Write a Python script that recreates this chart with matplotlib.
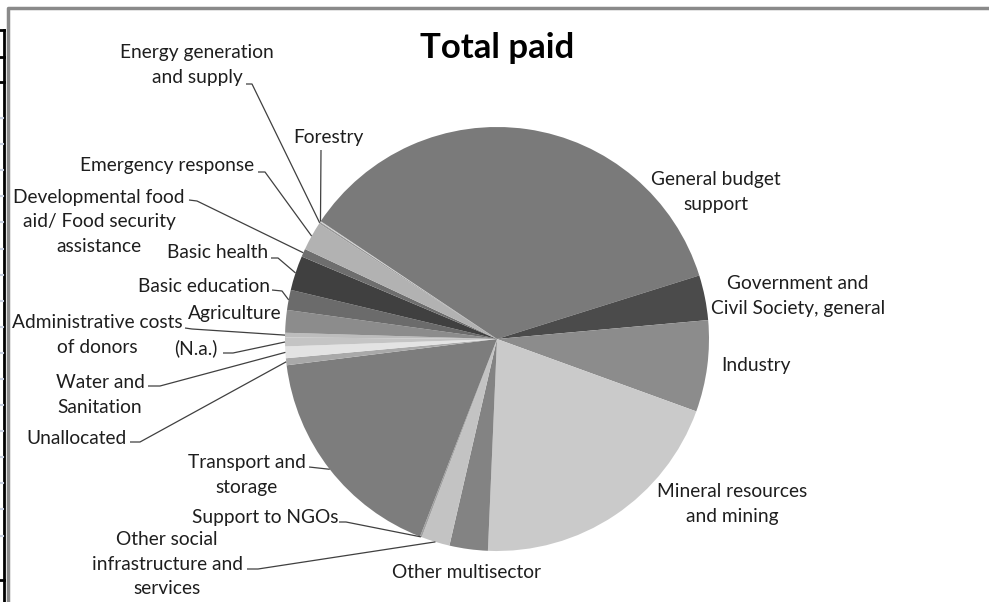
import numpy as np
import matplotlib
matplotlib.use("Agg")
import matplotlib.pyplot as plt

plt.rcParams['font.family'] = ['Lato', 'DejaVu Sans']

# share of total paid by sector (%), in the order the slices are drawn
sectores = ['Administrative costs\nof donors', 'Agriculture', 'Basic education',
            'Basic health', 'Developmental food\naid/ Food security\nassistance',
            'Emergency response', 'Energy generation\nand supply', 'Forestry',
            'General budget\nsupport', 'Government and\nCivil Society, general',
            'Industry', 'Mineral resources\nand mining', 'Other multisector',
            'Other social\ninfrastructure and\nservices', 'Support to NGOs',
            'Transport and\nstorage', 'Unallocated', 'Water and\nSanitation', '(N.a.)']
valores = [0.36, 1.72, 1.53, 2.64, 0.61, 2.19, 0.14, 0.08, 35.78, 3.42,
           6.97, 20.14, 2.92, 2.17, 0.14, 17.11, 0.53, 0.89, 0.67]
colores = ['#bdbdbd', '#8c8c8c', '#6b6b6b', '#404040', '#6e6e6e', '#b2b2b2',
           '#9a9a9a', '#d0d0d0', '#7a7a7a', '#4b4b4b', '#8c8c8c', '#cacaca',
           '#838383', '#c3c3c3', '#a0a0a0', '#7d7d7d', '#a9a9a9', '#e3e3e3',
           '#c4c4c4']

W, H = 989, 602
cx, cy, R = 497, H - 339, 212
inicio = 179.6
interlinea = 24.8

# posicion de cada etiqueta (pixeles desde arriba) y si lleva linea guia
etiquetas = {
    'Administrative costs\nof donors': (97, 335, [(185, 328), (192, 329)]),
    'Agriculture': (235, 313, None),
    'Basic education': (204, 286, [(272, 290), (282, 291)]),
    'Basic health': (218, 252, [(271, 258), (278, 258)]),
    'Developmental food\naid/ Food security\nassistance': (99, 222, [(189, 200), (197, 201)]),
    'Emergency response': (167, 165, [(258, 172), (265, 172)]),
    'Energy generation\nand supply': (197, 65, [(246, 84), (252, 84)]),
    'Forestry': (328, 138, [(321, 150)]),
    'General budget\nsupport': (716, 192, None),
    'Government and\nCivil Society, general': (798, 296, None),
    'Industry': (756, 366, None),
    'Mineral resources\nand mining': (732, 504, None),
    'Other multisector': (467, 573, None),
    'Other social\ninfrastructure and\nservices': (167, 564, [(247, 569), (258, 569)]),
    'Support to NGOs': (265, 518, [(339, 522), (346, 522)]),
    'Transport and\nstorage': (247, 475, [(309, 467)]),
    'Unallocated': (76, 438, [(130, 442), (140, 442)]),
    'Water and\nSanitation': (100, 395, [(148, 386), (160, 386)]),
    '(N.a.)': (196, 348, [(223, 353), (233, 353)]),
}

fig = plt.figure(figsize=(W / 100, H / 100), dpi=100)
ax = fig.add_axes([0, 0, 1, 1])

ax.pie(valores, colors=colores, startangle=inicio, counterclock=False,
       center=(cx, cy), radius=R, wedgeprops=dict(linewidth=0))

ax.set_xlim(0, W)
ax.set_ylim(0, H)
ax.set_aspect('equal')
ax.axis('off')

# angulo medio de cada porcion para las lineas guia
frac = np.array(valores) / sum(valores)
acum = np.concatenate([[0], np.cumsum(frac)])
medio = np.radians(inicio - 360 * (acum[:-1] + frac / 2))

for i, nombre in enumerate(sectores):
    x, y, guia = etiquetas[nombre]
    lineas = nombre.split('\n')
    for k, linea in enumerate(lineas):
        yk = y + (k - (len(lineas) - 1) / 2) * interlinea
        ax.text(x, H - yk, linea, ha='center', va='center', fontsize=13.8,
                color='#1e1e1e')
    if guia:
        px = [p[0] for p in guia] + [cx + R * np.cos(medio[i])]
        py = [H - p[1] for p in guia] + [cy + R * np.sin(medio[i])]
        ax.plot(px, py, color='#404040', lw=0.9, solid_capstyle='butt')

ax.text(497, H - 48, 'Total paid', ha='center', va='center',
        fontsize=25, fontweight='bold', color='black')

# borde del area del grafico y restos de la hoja de calculo
ax.plot([7.5, 7.5, W], [0, H - 7.5, H - 7.5], color='#8a8a8a', lw=2.5)
ax.plot([4, 4], [0, H - 30], color='black', lw=2)
for yy in [30, 57, 82, 580]:
    ax.plot([0, 4], [H - yy, H - yy], color='black', lw=2)
for yy in np.arange(118, 560, 26.1):
    ax.plot([0, 3], [H - yy, H - yy], color='#c8d0e0', lw=1.5)

fig.savefig('out.png', dpi=100)
